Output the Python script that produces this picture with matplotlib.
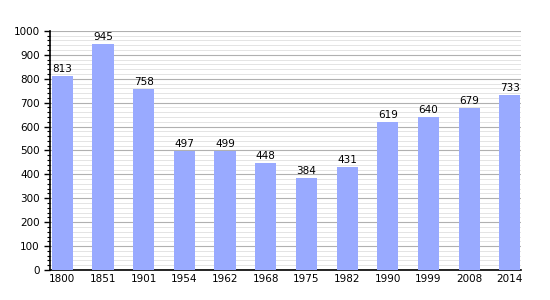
import matplotlib
matplotlib.use("Agg")
import matplotlib.pyplot as plt
from matplotlib.ticker import MultipleLocator

years = ["1800", "1851", "1901", "1954", "1962", "1968", "1975", "1982",
         "1990", "1999", "2008", "2014"]
population = [813, 945, 758, 497, 499, 448, 384, 431, 619, 640, 679, 733]

fig = plt.figure(figsize=(5.5, 3.0), dpi=100)
ax = fig.add_axes([0.091, 0.1, 0.856, 0.797])

x = range(len(years))
ax.bar(x, population, width=0.52, color="#99aaff", zorder=3)
for xi, v in zip(x, population):
    ax.text(xi, v + 8, str(v), ha="center", va="bottom", fontsize=7.5, zorder=4)

ax.set_xlim(-0.3, 11.27)
ax.set_ylim(0, 1000)
ax.set_xticks(list(x))
ax.set_xticklabels(years)
ax.yaxis.set_major_locator(MultipleLocator(100))
ax.yaxis.set_minor_locator(MultipleLocator(20))
ax.grid(axis="y", which="major", color="#b0b0b0", linewidth=0.8, zorder=0)
ax.grid(axis="y", which="minor", color="#e4e4e4", linewidth=0.7, zorder=0)
ax.tick_params(axis="both", labelsize=7.5)
ax.tick_params(axis="y", which="major", length=4, width=1)
ax.tick_params(axis="y", which="minor", length=2, width=0.8)
ax.tick_params(axis="x", length=0, pad=3)
for s in ["top", "right"]:
    ax.spines[s].set_visible(False)
ax.spines["left"].set_linewidth(1.2)
ax.spines["bottom"].set_linewidth(1.2)

fig.savefig("out.png", dpi=100)
